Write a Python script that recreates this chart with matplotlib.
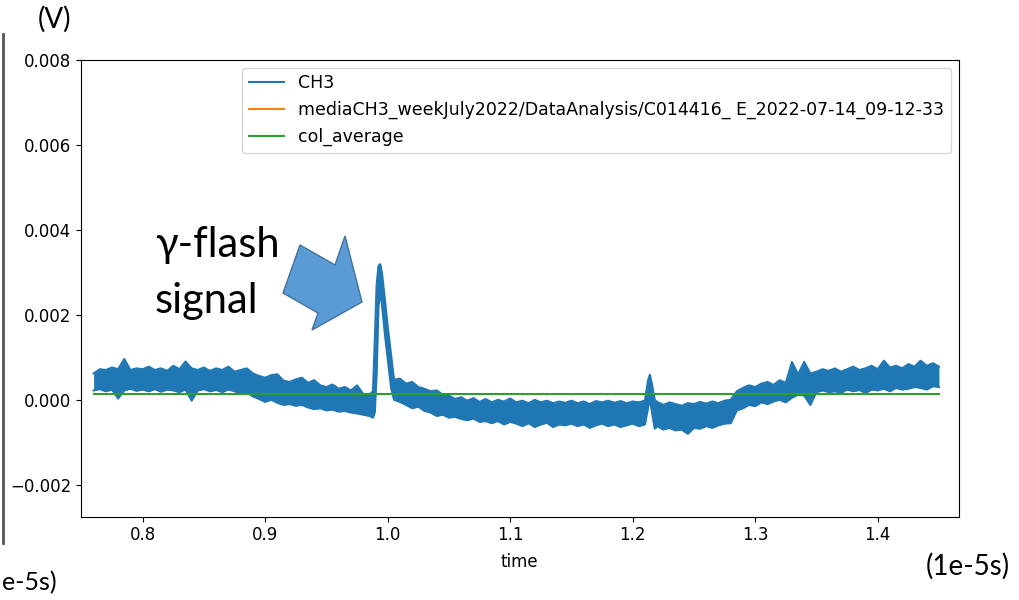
import numpy as np
import matplotlib.pyplot as plt
from matplotlib.patches import Polygon
from matplotlib.lines import Line2D

# time axis in units of 1e-5 s, CH3 trace envelope (upper / lower) in mV
t = [0.760, 0.765, 0.770, 0.775, 0.780, 0.785, 0.790, 0.795, 0.800, 0.805,
     0.810, 0.815, 0.820, 0.825, 0.830, 0.835, 0.840, 0.845, 0.850, 0.855,
     0.860, 0.865, 0.870, 0.875, 0.880, 0.885, 0.890, 0.895, 0.900, 0.905,
     0.910, 0.915, 0.920, 0.925, 0.930, 0.935, 0.940, 0.945, 0.950, 0.955,
     0.960, 0.965, 0.970, 0.975, 0.980, 0.985, 0.988, 0.9895, 0.991, 0.9925,
     0.9940, 0.9955, 0.9979, 1.0003, 1.0028, 1.0052, 1.010, 1.015, 1.020, 1.025,
     1.030, 1.035, 1.040, 1.045, 1.050, 1.055, 1.060, 1.065, 1.070, 1.075,
     1.080, 1.085, 1.090, 1.095, 1.100, 1.105, 1.110, 1.115, 1.120, 1.125,
     1.130, 1.135, 1.140, 1.145, 1.150, 1.155, 1.160, 1.165, 1.170, 1.175,
     1.180, 1.185, 1.190, 1.195, 1.200, 1.205, 1.210, 1.2125, 1.2140, 1.2155,
     1.218, 1.220, 1.225, 1.230, 1.235, 1.240, 1.245, 1.250, 1.255, 1.260,
     1.265, 1.270, 1.275, 1.280, 1.285, 1.290, 1.295, 1.300, 1.305, 1.310,
     1.315, 1.320, 1.325, 1.330, 1.335, 1.340, 1.345, 1.350, 1.355, 1.360,
     1.365, 1.370, 1.375, 1.380, 1.385, 1.390, 1.395, 1.400, 1.405, 1.410,
     1.415, 1.420, 1.425, 1.430, 1.435, 1.440, 1.445, 1.450]

ch3_hi = [0.62, 0.72, 0.70, 0.76, 0.72, 0.96, 0.70, 0.74, 0.72, 0.78,
          0.70, 0.74, 0.68, 0.80, 0.72, 0.90, 0.74, 0.70, 0.76, 0.68,
          0.74, 0.70, 0.78, 0.66, 0.70, 0.74, 0.62, 0.56, 0.52, 0.58,
          0.60, 0.45, 0.42, 0.48, 0.52, 0.40, 0.46, 0.34, 0.30, 0.36,
          0.26, 0.30, 0.22, 0.34, 0.14, 0.12, 0.20, 1.40, 2.70, 3.15,
          3.19, 2.95, 2.30, 1.66, 1.05, 0.47, 0.50, 0.38, 0.42, 0.30,
          0.26, 0.20, 0.22, 0.12, 0.10, 0.02, 0.06, -0.02, 0.04, -0.05,
          0.02, -0.06, 0.00, -0.04, 0.03, -0.06, -0.02, -0.08, 0.00, -0.06,
          -0.02, -0.08, -0.04, -0.07, -0.02, -0.08, -0.04, -0.10, -0.03, -0.06,
          -0.02, -0.07, -0.03, -0.08, -0.04, -0.06, -0.02, 0.45, 0.59, 0.40,
          0.00, -0.05, -0.12, -0.06, -0.10, -0.14, -0.08, -0.10, -0.05, -0.09,
          -0.04, -0.08, -0.02, 0.00, 0.20, 0.28, 0.34, 0.30, 0.38, 0.42,
          0.35, 0.46, 0.40, 0.89, 0.60, 0.89, 0.62, 0.66, 0.72, 0.68,
          0.74, 0.66, 0.72, 0.78, 0.70, 0.74, 0.80, 0.72, 0.92, 0.76,
          0.80, 0.74, 0.84, 0.78, 0.92, 0.80, 0.86, 0.78]

ch3_lo = [0.22, 0.25, 0.20, 0.24, 0.03, 0.22, 0.26, 0.21, 0.24, 0.20,
          0.25, 0.19, 0.24, 0.22, 0.18, 0.24, -0.02, 0.22, 0.25, 0.20,
          0.23, 0.18, 0.24, 0.20, 0.15, 0.18, 0.08, 0.02, -0.05, 0.00,
          -0.07, -0.12, -0.10, -0.14, -0.12, -0.18, -0.22, -0.20, -0.25, -0.23,
          -0.28, -0.26, -0.30, -0.32, -0.35, -0.38, -0.42, -0.30, 0.60, 2.20,
          2.55, 2.20, 1.50, 0.90, 0.28, 0.00, -0.05, -0.12, -0.20, -0.16,
          -0.26, -0.30, -0.38, -0.35, -0.42, -0.40, -0.45, -0.48, -0.44, -0.52,
          -0.50, -0.55, -0.50, -0.58, -0.52, -0.56, -0.62, -0.55, -0.64, -0.58,
          -0.54, -0.64, -0.58, -0.60, -0.56, -0.62, -0.58, -0.66, -0.60, -0.56,
          -0.62, -0.58, -0.64, -0.60, -0.56, -0.62, -0.58, -0.20, 0.05, -0.25,
          -0.68, -0.62, -0.70, -0.66, -0.72, -0.70, -0.80, -0.66, -0.68, -0.62,
          -0.66, -0.60, -0.56, -0.55, -0.25, -0.20, -0.12, -0.15, -0.06, -0.10,
          -0.04, 0.00, -0.06, 0.05, 0.12, 0.10, -0.12, 0.18, 0.22, 0.18,
          0.20, 0.16, 0.24, 0.20, 0.23, 0.16, 0.24, 0.22, 0.26, 0.20,
          0.28, 0.24, 0.26, 0.30, 0.28, 0.24, 0.32, 0.30]

col_average = 0.13  # mV

t = np.array(t)
hi = np.array(ch3_hi) * 1e-3
lo = np.array(ch3_lo) * 1e-3

fig = plt.figure(figsize=(10.19, 6), dpi=100)
ax = fig.add_axes([0.0795, 0.1388, 0.8612, 0.7617])

ax.fill_between(t, lo, hi, color='#1f77b4', lw=0)
ax.plot(t, hi, color='#1f77b4', lw=1.5, label='CH3')
ax.plot(t, lo, color='#1f77b4', lw=1.5)
ax.plot([], [], color='#ff7f0e', lw=1.5,
        label='mediaCH3_weekJuly2022/DataAnalysis/C014416_ E_2022-07-14_09-12-33')
ax.plot([t[0], t[-1]], [col_average * 1e-3] * 2, color='#2ca02c', lw=1.5,
        label='col_average')

ax.set_xlim(0.7497, 1.466)
ax.set_ylim(-0.00275, 0.008)
ax.set_xticks([0.8, 0.9, 1.0, 1.1, 1.2, 1.3, 1.4])
ax.set_yticks([-0.002, 0.0, 0.002, 0.004, 0.006, 0.008])
ax.tick_params(labelsize=12)
ax.set_xlabel('time', fontsize=12, labelpad=6)
ax.legend(loc='upper right', fontsize=12.5, borderaxespad=0.45)

# slide annotations around the plot
lab_font = ['Lato', 'Noto Sans', 'DejaVu Sans']
fig.text(0.152, 0.572, 'γ-flash', fontsize=30, family=lab_font, va='baseline')
fig.text(0.152, 0.478, 'signal', fontsize=30, family=lab_font, va='baseline')
fig.text(0.037, 0.953, '(V)', fontsize=20, family=lab_font, va='baseline')
fig.text(0.908, 0.042, '(1e-5s)', fontsize=20, family=lab_font, va='baseline')
fig.text(0.002, 0.017, 'e-5s)', fontsize=18, family=lab_font, va='baseline')

fig.add_artist(Line2D([0.003, 0.003], [0.943, 0.095], color='#555555', lw=2))

arrow_px = [(300, 245), (335, 265), (345, 236), (362, 302), (312, 330),
            (318, 313), (283, 293)]
arrow = Polygon([(x / 1019, 1 - y / 600) for x, y in arrow_px], closed=True,
                facecolor='#5b9bd5', edgecolor='#41719c', lw=1,
                transform=fig.transFigure)
fig.add_artist(arrow)

fig.savefig('out.png', dpi=100)
